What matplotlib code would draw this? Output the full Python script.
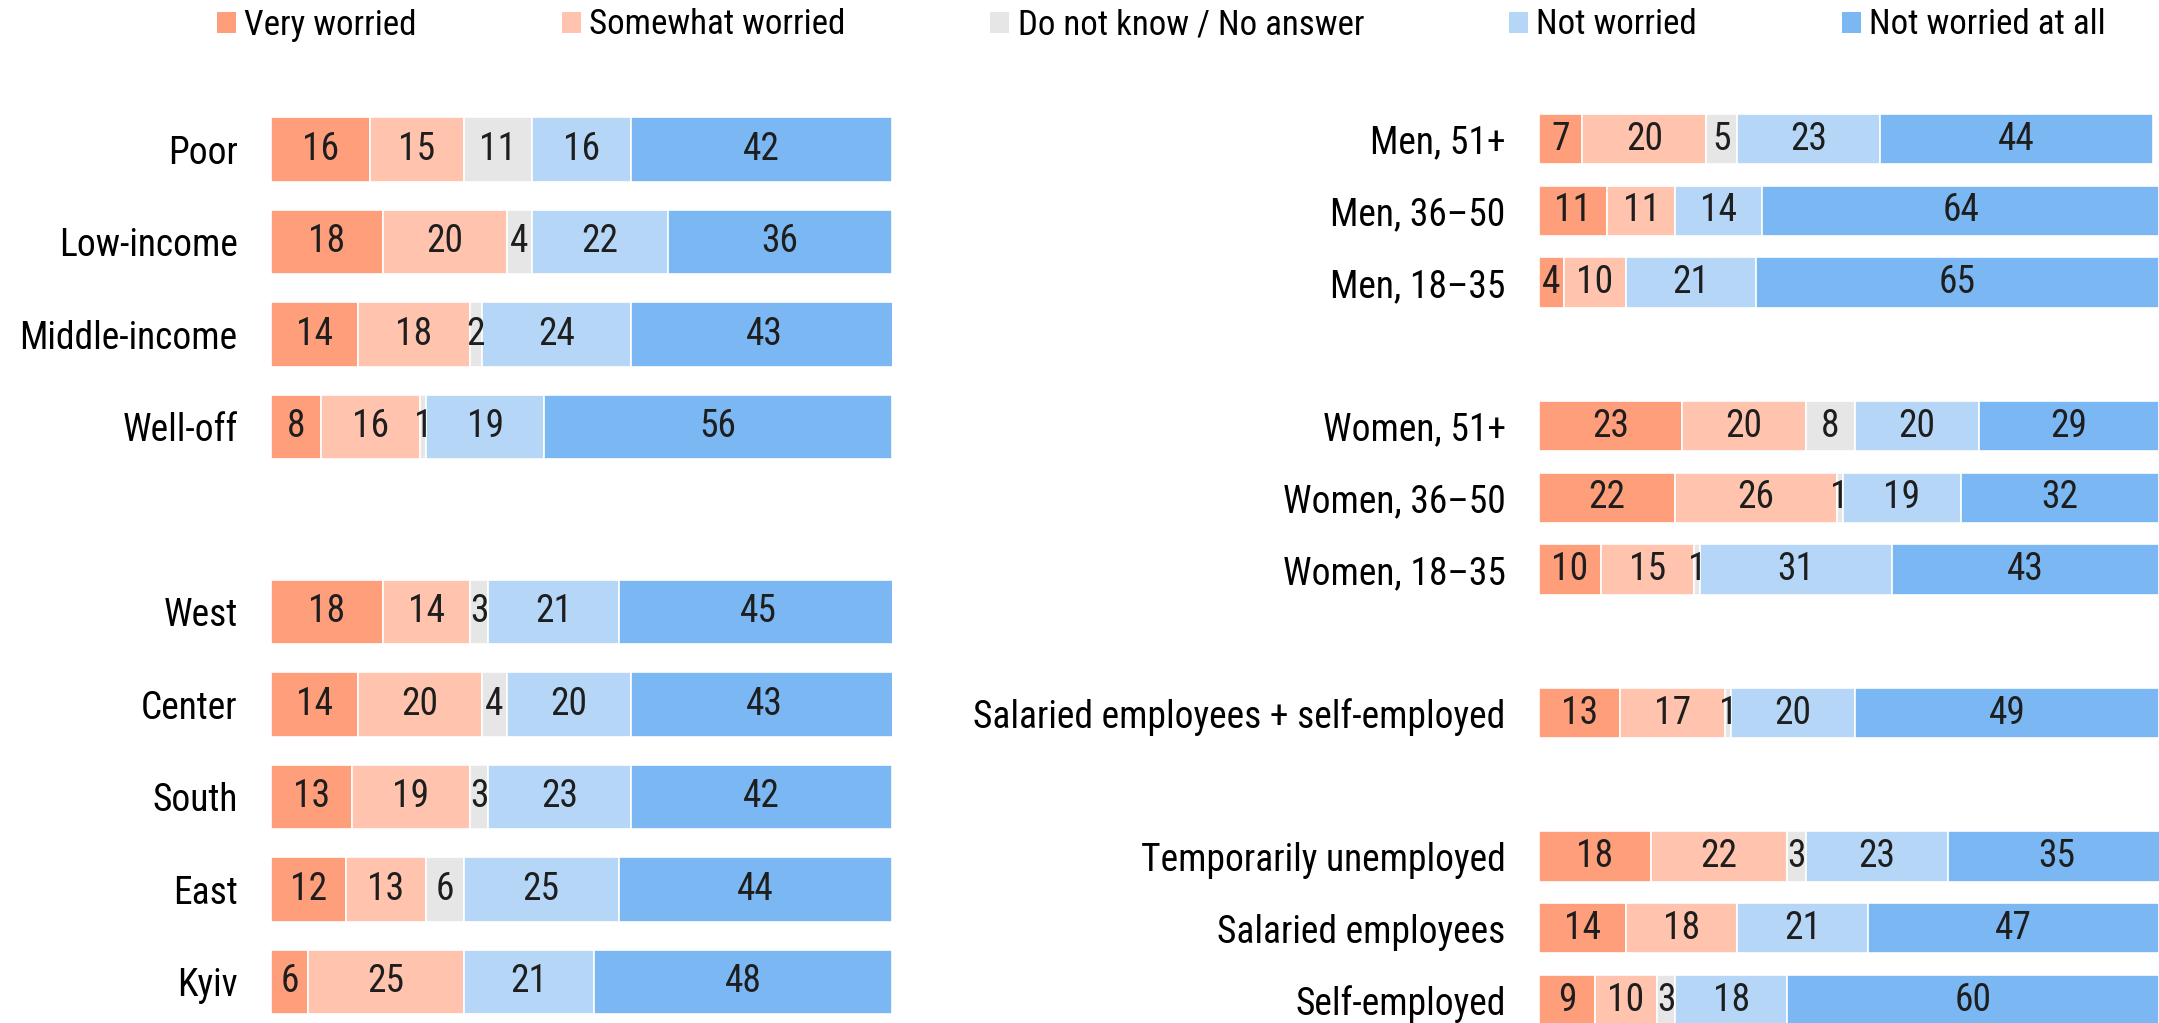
import matplotlib
matplotlib.use("Agg")
import matplotlib.pyplot as plt
from matplotlib import font_manager as fm
from matplotlib.patches import Patch

names = {f.name for f in fm.fontManager.ttflist}

categories = ["Very worried", "Somewhat worried", "Do not know / No answer", "Not worried", "Not worried at all"]
colors = ["#FF9E7A", "#FFC3AE", "#E6E6E6", "#B5D6F7", "#7BB7F3"]

left_labels = ["Poor", "Low-income", "Middle-income", "Well-off", "", "West", "Center", "South", "East", "Kyiv"]
left_very = [16, 18, 14, 8, None, 18, 14, 13, 12, 6]
left_some = [15, 20, 18, 16, None, 14, 20, 19, 13, 25]
left_dk = [11, 4, 2, 1, None, 3, 4, 3, 6, 0]
left_not = [16, 22, 24, 19, None, 21, 20, 23, 25, 21]
left_notall = [42, 36, 43, 56, None, 45, 43, 42, 44, 48]

right_labels = ["Men, 51+", "Men, 36–50", "Men, 18–35", "", "Women, 51+", "Women, 36–50", "Women, 18–35", "",
                "Salaried employees + self-employed", "", "Temporarily unemployed", "Salaried employees", "Self-employed"]
right_very = [7, 11, 4, None, 23, 22, 10, None, 13, None, 18, 14, 9]
right_some = [20, 11, 10, None, 20, 26, 15, None, 17, None, 22, 18, 10]
right_dk = [5, 0, 0, None, 8, 1, 1, None, 1, None, 3, 0, 3]
right_not = [23, 14, 21, None, 20, 19, 31, None, 20, None, 23, 21, 18]
right_notall = [44, 64, 65, None, 29, 32, 43, None, 49, None, 35, 47, 60]

fam = "Roboto"
for cand in ["Roboto Condensed", "Liberation Sans Narrow", "DejaVu Sans Condensed"]:
    if cand in names:
        fam = cand
        break
plt.rcParams['font.family'] = [fam, 'DejaVu Sans']

W, H = 2159, 1023
fig = plt.figure(figsize=(W / 100, H / 100), dpi=100)

FS = 27

def draw(ax, labels, series):
    ys = list(range(len(labels)))
    for i, y in enumerate(ys):
        if not labels[i]:
            continue
        left = 0
        for s, c in zip(series, colors):
            v = s[i]
            ax.barh(y, v, left=left, height=0.7, color=c, edgecolor='white', linewidth=1.2)
            if v >= 1:
                ax.text(left + v / 2, y, str(v), ha='center', va='center', fontsize=FS, color='#1e1e1e')
            left += v
    ax.set_xlim(0, 100)
    ax.set_ylim(len(labels) - 0.5, -0.5)
    ax.set_yticks([y for y in ys if labels[y]])
    ax.set_yticklabels([l for l in labels if l], fontsize=FS, color='black')
    ax.tick_params(axis='y', length=0, pad=24)
    ax.set_xticks([])
    for sp in ax.spines.values():
        sp.set_visible(False)

# left axes: x 271..892, rows 149..982 (spacing 92.5)
lsp = 92.5
ax1 = fig.add_axes([271 / W, 1 - (982 + lsp / 2) / H, (892 - 271) / W, (10 * lsp) / H])
draw(ax1, left_labels, [left_very, left_some, left_dk, left_not, left_notall])

rsp = 71.75
ax2 = fig.add_axes([1539 / W, 1 - (1000 + rsp / 2) / H, (2159 - 1539) / W, (13 * rsp) / H])
draw(ax2, right_labels, [right_very, right_some, right_dk, right_not, right_notall])

handles = [Patch(facecolor=c, edgecolor='none') for c in colors]
fig.legend(handles, categories, loc='center', bbox_to_anchor=(0.538, 1 - 25 / H), ncol=5, frameon=False,
           fontsize=25.2, handlelength=0.54, handleheight=0.54, handletextpad=0.24, columnspacing=4.14)

fig.savefig("out.png", dpi=100)
